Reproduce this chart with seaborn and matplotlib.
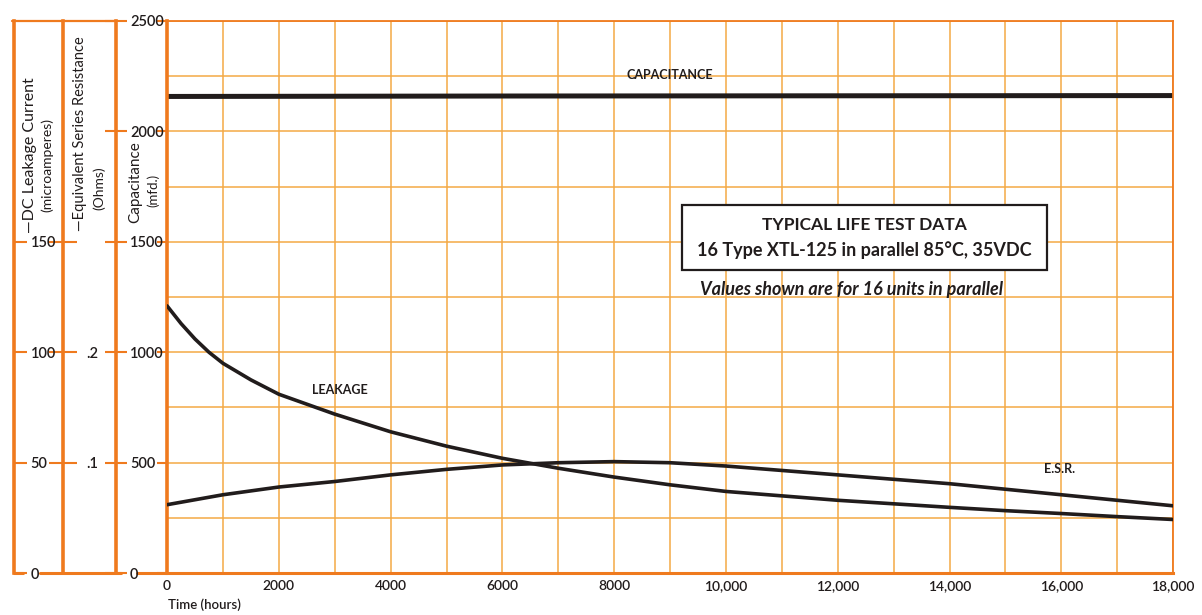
import numpy as np
import pandas as pd
import matplotlib
matplotlib.use("Agg")
import matplotlib.pyplot as plt
import seaborn as sns
from matplotlib.patches import Rectangle
from matplotlib.ticker import MultipleLocator, FixedLocator, FixedFormatter

# values
leak_hours = [0, 250, 500, 750, 1000, 1500, 2000, 3000, 4000, 5000, 6000, 7000, 8000,
              9000, 10000, 11000, 12000, 13000, 14000, 15000, 16000, 17000, 18000]
leak_ua = [121, 113, 106, 100, 95, 87.5, 81, 72, 64, 57.5, 52, 47.5, 43.5,
           40, 37, 35, 33, 31.4, 29.8, 28.3, 27, 25.6, 24.3]

esr_hours = [0, 1000, 2000, 3000, 4000, 5000, 6000, 7000, 8000, 9000,
             10000, 11000, 12000, 13000, 14000, 15000, 16000, 17000, 18000]
esr_ohms = [0.062, 0.071, 0.078, 0.083, 0.089, 0.094, 0.098, 0.100, 0.101, 0.100,
            0.097, 0.093, 0.089, 0.085, 0.081, 0.076, 0.071, 0.066, 0.061]

cap_hours = [0, 6000, 12000, 18000]
cap_mfd = [2158, 2160, 2161, 2162]

x_ticks = [0, 2000, 4000, 6000, 8000, 10000, 12000, 14000, 16000, 18000]
x_labels = ["0", "2000", "4000", "6000", "8000", "10,000", "12,000", "14,000", "16,000", "18,000"]
cap_ticks = [0, 500, 1000, 1500, 2000, 2500]
leak_ticks = [0, 50, 100, 150]
esr_ticks = [0.1, 0.2, 0.3]
esr_labels = [".1", ".2", ""]

ORANGE = "#EF7A1E"
GRID = "#F4A945"
INK = "#211c1c"

sns.set_theme(style="white")
plt.rcParams["font.family"] = ["Lato", "DejaVu Sans"]

fig = plt.figure(figsize=(12.02, 6.15), dpi=100)
ax = fig.add_axes([0.139, 0.068, 0.837, 0.898])

def to_ax(px):
    return (px - 167) / 1006

# capacitance on the main axes
cap_df = pd.DataFrame({"hours": cap_hours, "cap": cap_mfd})
sns.lineplot(data=cap_df, x="hours", y="cap", ax=ax, color=INK, lw=3.6)
ax.set_xlim(0, 18000)
ax.set_ylim(0, 2500)
ax.xaxis.set_major_locator(FixedLocator(x_ticks))
ax.xaxis.set_major_formatter(FixedFormatter(x_labels))
ax.xaxis.set_minor_locator(MultipleLocator(1000))
ax.yaxis.set_major_locator(MultipleLocator(500))
ax.yaxis.set_minor_locator(MultipleLocator(250))
ax.grid(True, which="both", color=GRID, lw=1.1)
ax.set_axisbelow(True)
ax.tick_params(axis="x", which="both", length=0, pad=5, labelsize=10, labelcolor=INK)
ax.tick_params(axis="y", which="major", left=True, length=7, width=1.5, color=ORANGE,
               labelleft=False)
ax.tick_params(axis="y", which="minor", length=0)
for lbl in ax.get_xticklabels():
    lbl.set_fontweight("semibold")
ax.set_xlabel("")
ax.set_ylabel("")
for s in ["top", "right"]:
    ax.spines[s].set_color(ORANGE)
    ax.spines[s].set_linewidth(1.3)
ax.spines["left"].set_color(ORANGE)
ax.spines["left"].set_linewidth(2.6)
ax.spines["bottom"].set_color(ORANGE)
ax.spines["bottom"].set_linewidth(2.2)


def side_axis(pos, lim, ticks, labels, direction, length, pad):
    a = ax.twinx()
    a.set_ylim(*lim)
    for s in ["top", "bottom", "left"]:
        a.spines[s].set_visible(False)
    a.spines["right"].set_position(("axes", pos))
    a.spines["right"].set_color(ORANGE)
    a.spines["right"].set_linewidth(2.6)
    a.yaxis.set_ticks_position("right")
    a.yaxis.set_major_locator(FixedLocator(ticks))
    a.yaxis.set_major_formatter(FixedFormatter(labels))
    a.tick_params(axis="y", direction=direction, length=length, width=1.5,
                  color=ORANGE, pad=pad, labelsize=10.5, labelcolor=INK)
    for lbl in a.get_yticklabels():
        lbl.set_fontweight("semibold")
    a.grid(False)
    return a


ax_cap = side_axis(to_ax(116), (0, 2500), cap_ticks, [str(t) for t in cap_ticks],
                   "inout", 16, 2)
ax_esr = side_axis(to_ax(63), (0, 0.5), esr_ticks, esr_labels, "inout", 20, 7)
ax_leak = side_axis(to_ax(14), (0, 250), leak_ticks, [str(t) for t in leak_ticks],
                    "out", 9, 3)

leak_df = pd.DataFrame({"hours": leak_hours, "leak": leak_ua})
sns.lineplot(data=leak_df, x="hours", y="leak", ax=ax_leak, color=INK, lw=2.6)
esr_df = pd.DataFrame({"hours": esr_hours, "esr": esr_ohms})
sns.lineplot(data=esr_df, x="hours", y="esr", ax=ax_esr, color=INK, lw=2.6)
for a in (ax_leak, ax_esr, ax_cap):
    a.set_xlabel("")
    a.set_ylabel("")
    a.set_xlim(0, 18000)

# connecting frame lines on the left side
ax.plot([to_ax(12), to_ax(117)], [1, 1], transform=ax.transAxes, color=ORANGE,
        lw=1.6, clip_on=False)
ax.plot([to_ax(14), to_ax(23)], [0, 0], transform=ax.transAxes, color=ORANGE,
        lw=2.2, clip_on=False)
ax.plot([to_ax(40), to_ax(121)], [0, 0], transform=ax.transAxes, color=ORANGE,
        lw=2.2, clip_on=False)
ax.plot([to_ax(137), 0], [0, 0], transform=ax.transAxes, color=ORANGE,
        lw=2.2, clip_on=False)

# axis titles
fig.text(30 / 1202, 1 - 155 / 615, "\u2014DC Leakage Current", rotation=90,
         ha="center", va="center", fontsize=11.5, color=INK)
fig.text(47 / 1202, 1 - 165 / 615, "(microamperes)", rotation=90,
         ha="center", va="center", fontsize=10, color=INK)
fig.text(80 / 1202, 1 - 134 / 615, "\u2014Equivalent Series Resistance", rotation=90,
         ha="center", va="center", fontsize=10.5, color=INK)
fig.text(99 / 1202, 1 - 188 / 615, "(Ohms)", rotation=90,
         ha="center", va="center", fontsize=10, color=INK)
fig.text(135 / 1202, 1 - 182 / 615, "Capacitance", rotation=90,
         ha="center", va="center", fontsize=11, color=INK)
fig.text(153 / 1202, 1 - 190 / 615, "(mfd.)", rotation=90,
         ha="center", va="center", fontsize=9.5, color=INK)
fig.text(168 / 1202, 1 - 605 / 615, "Time (hours)", ha="left", va="center",
         fontsize=9.5, fontweight="semibold", color=INK)

# curve labels
ax.text(9000, 2255, "CAPACITANCE", ha="center", va="center", fontsize=9,
        fontweight="bold", color=INK)
ax.text(3100, 830, "LEAKAGE", ha="center", va="center", fontsize=9,
        fontweight="bold", color=INK)
ax.text(15970, 470, "E.S.R.", ha="center", va="center", fontsize=9,
        fontweight="bold", color=INK)

# info box
ax.add_patch(Rectangle((0.512, 0.549), 0.363, 0.118, transform=ax.transAxes,
                       facecolor="white", edgecolor=INK, lw=1.6, zorder=5))
ax.text(0.693, 0.630, "TYPICAL LIFE TEST DATA", transform=ax.transAxes,
        ha="center", va="center", fontsize=12.5, fontweight="bold", color=INK, zorder=6)
ax.text(0.693, 0.585, "16 Type XTL-125 in parallel 85\u00b0C, 35VDC",
        transform=ax.transAxes, ha="center", va="center", fontsize=13,
        fontweight="bold", color=INK, zorder=6)
ax.text(0.680, 0.513, "Values shown are for 16 units in parallel",
        transform=ax.transAxes, ha="center", va="center", fontsize=13,
        fontweight="bold", fontstyle="italic", color=INK, zorder=6)

fig.savefig("out.png", dpi=100, facecolor="white")
